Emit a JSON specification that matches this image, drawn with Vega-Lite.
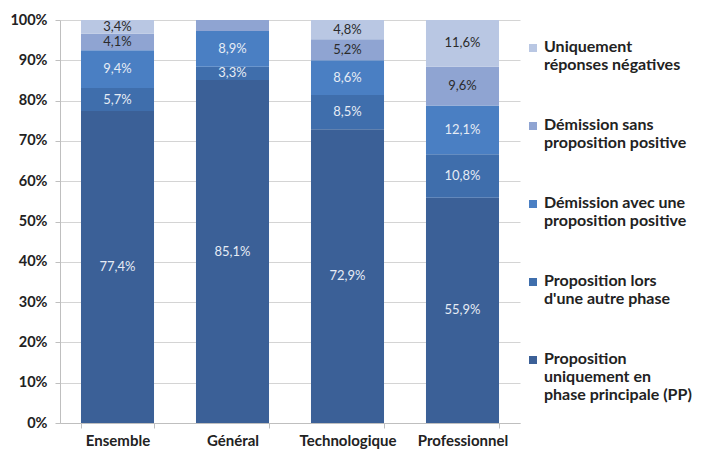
{
  "$schema": "https://vega.github.io/schema/vega-lite/v6.json",
  "width": 460,
  "height": 403,
  "autosize": {"type": "none"},
  "padding": {"left": 60, "top": 20, "right": 181, "bottom": 27},
  "background": "white",
  "config": {
    "locale": {"number": {"decimal": ",", "thousands": " ", "grouping": [3], "currency": ["", " €"], "percent": "%"}},
    "view": {"stroke": null},
    "font": "Lato"
  },
  "data": {
    "values": [
      {"cat": "Ensemble", "s": "PP", "k": 0, "v": 0.774},
      {"cat": "Ensemble", "s": "autre", "k": 1, "v": 0.057},
      {"cat": "Ensemble", "s": "avec", "k": 2, "v": 0.094},
      {"cat": "Ensemble", "s": "sans", "k": 3, "v": 0.041},
      {"cat": "Ensemble", "s": "neg", "k": 4, "v": 0.034},
      {"cat": "Général", "s": "PP", "k": 0, "v": 0.851},
      {"cat": "Général", "s": "autre", "k": 1, "v": 0.033},
      {"cat": "Général", "s": "avec", "k": 2, "v": 0.089},
      {"cat": "Général", "s": "sans", "k": 3, "v": 0.027},
      {"cat": "Général", "s": "neg", "k": 4, "v": 0.0},
      {"cat": "Technologique", "s": "PP", "k": 0, "v": 0.729},
      {"cat": "Technologique", "s": "autre", "k": 1, "v": 0.085},
      {"cat": "Technologique", "s": "avec", "k": 2, "v": 0.086},
      {"cat": "Technologique", "s": "sans", "k": 3, "v": 0.052},
      {"cat": "Technologique", "s": "neg", "k": 4, "v": 0.048},
      {"cat": "Professionnel", "s": "PP", "k": 0, "v": 0.559},
      {"cat": "Professionnel", "s": "autre", "k": 1, "v": 0.108},
      {"cat": "Professionnel", "s": "avec", "k": 2, "v": 0.121},
      {"cat": "Professionnel", "s": "sans", "k": 3, "v": 0.096},
      {"cat": "Professionnel", "s": "neg", "k": 4, "v": 0.116}
    ]
  },
  "encoding": {
    "x": {
      "field": "cat", "type": "nominal", "sort": null,
      "scale": {"paddingInner": 0.365, "paddingOuter": 0.1825},
      "axis": {
        "title": null, "labelAngle": 0, "labelFont": "Lato", "labelFontSize": 15, "labelFontWeight": "bold",
        "labelColor": "#222", "labelPadding": 5, "tickBand": "extent", "tickSize": 5,
        "domainColor": "#bfbfbf", "tickColor": "#bfbfbf"
      }
    },
    "y": {
      "field": "v", "type": "quantitative", "stack": "zero",
      "scale": {"domain": [0, 1], "nice": false},
      "axis": {
        "title": null, "format": ".0%", "values": [0,0.1,0.2,0.3,0.4,0.5,0.6,0.7,0.8,0.9,1],
        "labelOverlap": false,
        "labelFont": "Lato", "labelFontSize": 14.5, "labelFontWeight": "bold", "labelColor": "#222",
        "labelPadding": 8, "tickSize": 5, "gridColor": "#d4d4d4", "domainColor": "#bfbfbf", "tickColor": "#bfbfbf"
      }
    },
    "order": {"field": "k", "type": "quantitative", "sort": "ascending"}
  },
  "layer": [
    {
      "mark": {"type": "bar"},
      "encoding": {
        "color": {
          "field": "s", "type": "nominal",
          "scale": {
            "domain": ["neg", "sans", "avec", "autre", "PP"],
            "range": ["#b9c7e3", "#8fa4d2", "#4a7fc3", "#3f6eac", "#3b6097"]
          },
          "legend": {
            "title": null, "orient": "right", "offset": -15, "padding": 20,
            "symbolType": "square", "symbolSize": 64, "symbolStrokeWidth": 0,
            "labelFont": "Lato", "labelFontSize": 16, "labelFontWeight": "bold", "labelColor": "#222",
            "labelLimit": 200, "labelOffset": 3, "rowPadding": 44, "labelBaseline": "top",
            "labelExpr": "datum.value == 'neg' ? ['Uniquement', 'réponses négatives'] : datum.value == 'sans' ? ['Démission sans', 'proposition positive'] : datum.value == 'avec' ? ['Démission avec une', 'proposition positive'] : datum.value == 'autre' ? ['Proposition lors', 'd\\'une autre phase'] : ['Proposition', 'uniquement en', 'phase principale (PP)']",
            "labelLineHeight": 23,
            "encode": {"labels": {"update": {"dy": {"value": -9}}}}
          }
        }
      }
    },
    {
      "transform": [{"filter": "datum.v > 0.03"}],
      "mark": {"type": "text", "font": "Lato", "fontSize": 13, "baseline": "middle"},
      "encoding": {
        "y": {"field": "v", "type": "quantitative", "stack": "zero", "bandPosition": 0.5},
        "text": {"field": "v", "type": "quantitative", "format": ".1%"},
        "color": {"condition": {"test": "datum.k >= 3", "value": "#2b2b2b"}, "value": "#e6ecf5"}
      }
    }
  ]
}
